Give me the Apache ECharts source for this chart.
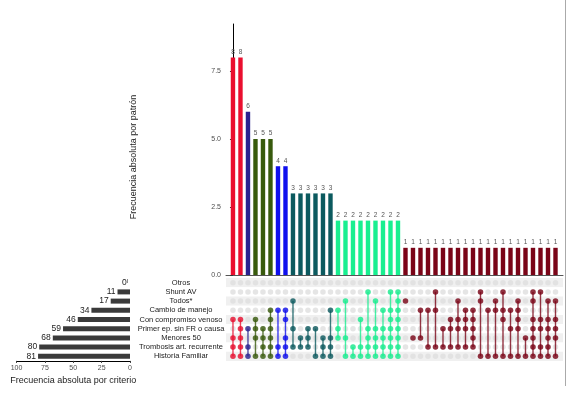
<!DOCTYPE html>
<html>
<head>
<meta charset="utf-8">
<script src="https://cdn.jsdelivr.net/npm/echarts@6/dist/echarts.min.js"></script>
<style>
    html, body {margin: 0; padding: 0; background: #fff;}
    #chart {width: 572px; height: 394px;}
</style>
</head>
<body>
<div id="chart"></div>
<script>
// Criteria (rows of the matrix, top to bottom)
const setNames = [
    'Otros',
    'Shunt AV',
    'Todos*',
    'Cambio de manejo',
    'Con compromiso venoso',
    'Primer ep. sin FR o causa',
    'Menores 50',
    'Trombosis art. recurrente',
    'Historia Familiar'
];
const setLabels = ['0ˡ', '11', '17', '34', '46', '59', '68', '80', '81'];
const setSizes = [0, 11, 17, 34, 46, 59, 68, 80, 81];

// Frequency of each pattern (bars above the matrix)
const patternCounts = [
    8, 8, 6, 5, 5, 5, 4, 4,
    3, 3, 3, 3, 3, 3,
    2, 2, 2, 2, 2, 2, 2, 2, 2,
    1, 1, 1, 1, 1, 1, 1, 1, 1, 1, 1, 1, 1, 1, 1, 1, 1, 1, 1, 1, 1
];

// Criteria present in each pattern (row indexes of setNames)
const patternSets = [
    [4, 6, 7, 8], [4, 5, 6, 7, 8], [5, 7, 8], [4, 5, 6, 8], [5, 6, 7, 8], [3, 4, 5, 6, 7, 8],
    [3, 7, 8], [3, 4, 6, 7, 8],
    [2, 5, 7], [6, 7], [5, 6, 7], [5, 8], [6, 7, 8], [3, 6, 7, 8],
    [3, 5, 6], [2, 6, 8], [7, 8], [4, 7, 8], [1, 5, 6, 7, 8], [2, 5, 6, 7, 8],
    [3, 5, 6, 7, 8], [1, 3, 4, 5, 6, 7, 8], [1, 2, 3, 4, 5, 6, 7, 8],
    [2], [6], [3, 6], [3, 7], [1, 3, 7], [5, 7], [4, 5, 7], [2, 4, 5, 7], [3, 4, 5, 7],
    [3, 4, 5, 6, 7], [1, 2, 8], [3, 8], [2, 3, 8], [1, 3, 4, 8], [3, 5, 8],
    [2, 3, 4, 5, 8], [6, 8], [1, 2, 4, 5, 6, 7, 8], [1, 4, 5, 7, 8],
    [2, 4, 5, 6, 7, 8], [2, 4, 5, 6, 8]
];

// colour of each frequency group
const groupColors = {
    8: '#ea0f2f',
    6: '#2b2290',
    5: '#385a0d',
    4: '#0f0fee',
    3: '#0c5a5f',
    2: '#18ef90',
    1: '#7a0417'
};

const font = 'Liberation Sans, Arial, sans-serif';

// build series data
let barData = patternCounts.map((v, i) => [i, v]);
let emptyDots = [];
let fullDots = [];
let links = [];
patternSets.forEach((rows, i) => {
    rows.forEach(r => fullDots.push([i, r, patternCounts[i]]));
    links.push([i, Math.min(...rows), Math.max(...rows), patternCounts[i]]);
});
for (let i = 0; i < patternCounts.length; i++) {
    for (let r = 0; r < setNames.length; r++) {
        emptyDots.push([i, r]);
    }
}

let myChart = echarts.init(document.getElementById('chart'), null, {renderer: 'canvas'});

let matrixTop = 278.1;
let matrixHeight = 82.8;

let option = {
    backgroundColor: '#ffffff',
    animation: false,
    textStyle: {fontFamily: font},
    grid: [
        {left: 226, right: 9, top: 24, bottom: 119},
        {left: 226, right: 9, top: matrixTop, height: matrixHeight},
        {left: 16.5, right: 442, top: matrixTop, height: matrixHeight}
    ],
    xAxis: [
        {
            gridIndex: 0, type: 'value', min: -0.93, max: 44,
            axisLine: {show: true, onZero: false, lineStyle: {color: '#555', width: 1}},
            axisTick: {show: false}, axisLabel: {show: false}, splitLine: {show: false}
        },
        {
            gridIndex: 1, type: 'value', min: -0.93, max: 44,
            axisLine: {show: false}, axisTick: {show: false}, axisLabel: {show: false}, splitLine: {show: false}
        },
        {
            gridIndex: 2, type: 'value', inverse: true, min: 0, max: 100, interval: 25,
            axisLine: {show: true, lineStyle: {color: '#000', width: 1}},
            axisTick: {show: true, length: 2, lineStyle: {color: '#333'}},
            axisLabel: {fontSize: 7, color: '#4d4d4d', margin: 4, fontFamily: font},
            splitLine: {show: false},
            name: 'Frecuencia absoluta por criterio',
            nameLocation: 'middle',
            nameGap: 15,
            nameTextStyle: {fontSize: 9, color: '#222', fontFamily: font}
        }
    ],
    yAxis: [
        {
            gridIndex: 0, type: 'value', min: 0, max: 9.23,
            axisLine: {show: true, lineStyle: {color: '#000', width: 1}},
            axisTick: {show: true, length: 3, lineStyle: {color: '#333'}, customValues: [0, 2.5, 5, 7.5]},
            axisLabel: {
                fontSize: 7, color: '#4d4d4d', margin: 5, fontFamily: font,
                customValues: [0, 2.5, 5, 7.5],
                formatter: v => v.toFixed(1)
            },
            splitLine: {show: false}
        },
        {
            gridIndex: 1, type: 'category', inverse: true, data: setNames,
            axisLine: {show: false}, axisTick: {show: false}, axisLabel: {show: false},
            splitLine: {show: false},
            splitArea: {show: true, interval: 0, areaStyle: {color: ['#f0f0f0', '#ffffff']}}
        },
        {
            gridIndex: 2, type: 'category', inverse: true, data: setNames, position: 'right',
            axisLine: {show: false}, axisTick: {show: false},
            axisLabel: {
                interval: 0, fontSize: 7.5, color: '#1a1a1a', margin: 51, align: 'center',
                fontFamily: font
            }
        }
    ],
    graphic: [
        {
            type: 'text', x: 134, y: 157, rotation: Math.PI / 2,
            style: {
                text: 'Frecuencia absoluta por patrón', fontSize: 9, fill: '#222',
                fontFamily: font, align: 'center', verticalAlign: 'middle'
            }
        },
        {
            type: 'line', shape: {x1: 565.5, y1: 0, x2: 565.5, y2: 386},
            style: {stroke: '#aaa', lineWidth: 1}
        }
    ],
    series: [
        {
            name: 'Patrones',
            type: 'bar',
            xAxisIndex: 0, yAxisIndex: 0,
            barWidth: 4.4,
            data: barData,
            itemStyle: {color: p => groupColors[p.value[1]]},
            label: {
                show: true, position: 'top', distance: 2, fontSize: 6.5, color: '#555',
                fontFamily: font, formatter: p => p.value[1]
            }
        },
        {
            name: 'Vacios',
            type: 'scatter',
            xAxisIndex: 1, yAxisIndex: 1,
            symbolSize: 5.5,
            data: emptyDots,
            itemStyle: {color: '#dedede'},
            z: 2
        },
        {
            name: 'Enlaces',
            type: 'custom',
            xAxisIndex: 1, yAxisIndex: 1,
            data: links,
            z: 3,
            renderItem: function (params, api) {
                let p1 = api.coord([api.value(0), api.value(1)]);
                let p2 = api.coord([api.value(0), api.value(2)]);
                return {
                    type: 'line',
                    shape: {x1: p1[0], y1: p1[1], x2: p2[0], y2: p2[1]},
                    style: {stroke: groupColors[api.value(3)], lineWidth: 1.4, opacity: 0.8}
                };
            }
        },
        {
            name: 'Presentes',
            type: 'scatter',
            xAxisIndex: 1, yAxisIndex: 1,
            symbolSize: 5.5,
            data: fullDots,
            itemStyle: {color: p => groupColors[p.value[2]]},
            z: 4
        },
        {
            name: 'Criterios',
            type: 'bar',
            xAxisIndex: 2, yAxisIndex: 2,
            barWidth: 5,
            data: setSizes,
            itemStyle: {color: '#3a3a3a'},
            label: {
                show: true, position: 'left', distance: 2, fontSize: 8.5, color: '#222',
                fontFamily: font, formatter: p => setLabels[p.dataIndex]
            }
        }
    ]
};

myChart.setOption(option);
</script>
</body>
</html>
